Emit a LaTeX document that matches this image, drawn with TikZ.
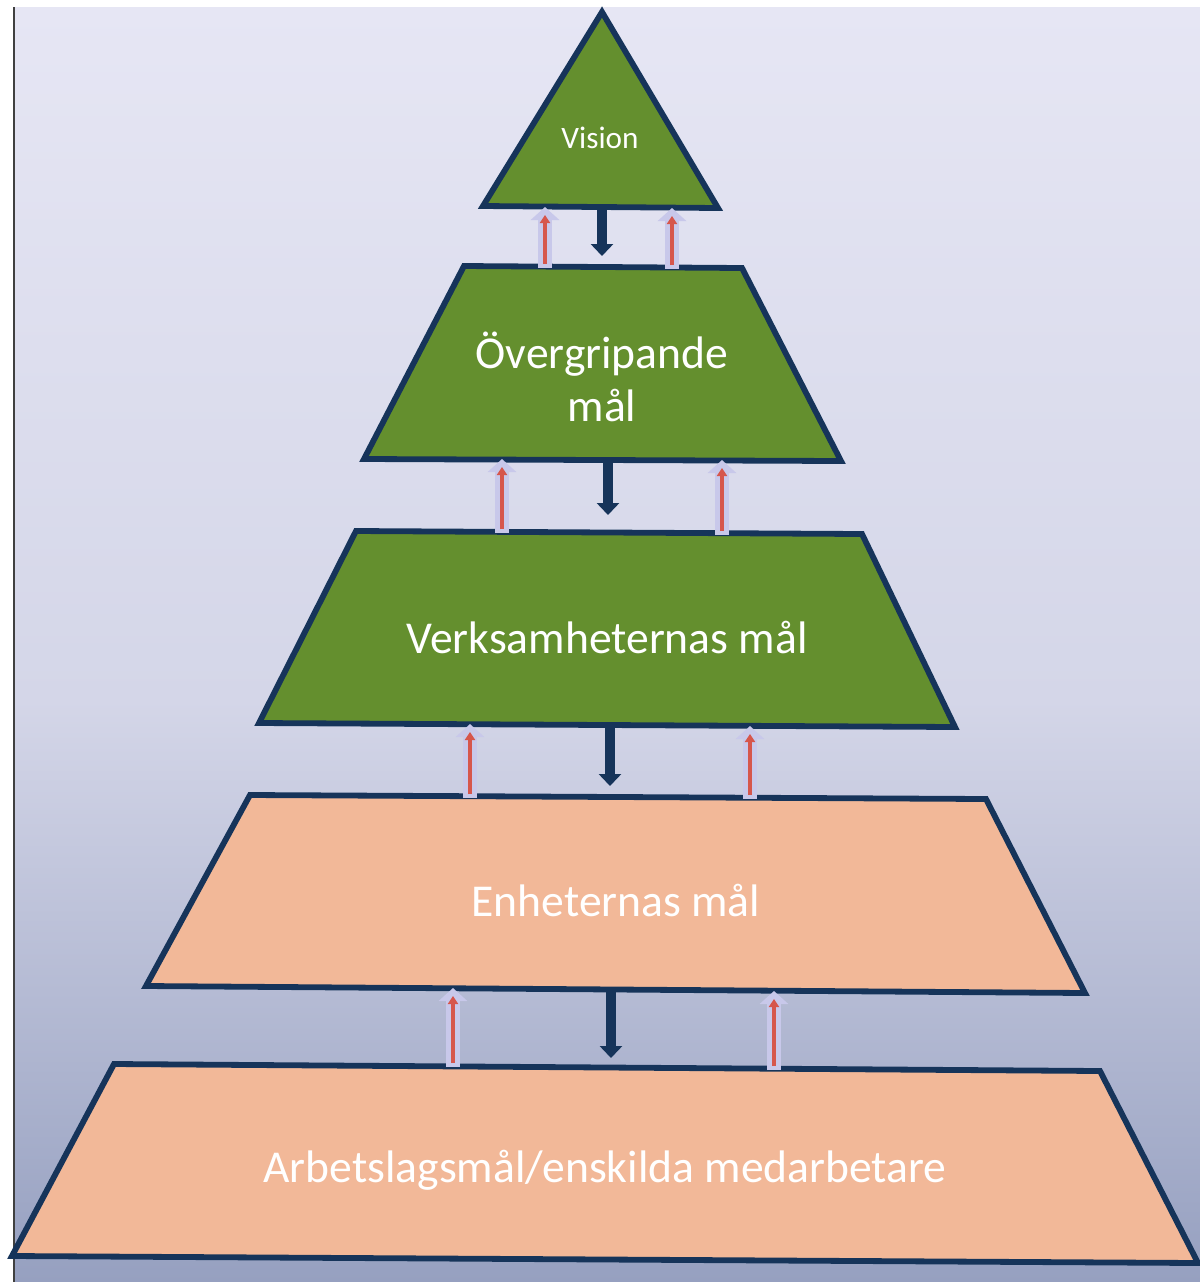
\documentclass[tikz,border=0pt]{standalone}
\usepackage{fontspec}
\setmainfont{Carlito}
\usetikzlibrary{arrows.meta}
\definecolor{bgtop}{RGB}{230,230,244}
\definecolor{bgmid}{RGB}{212,214,232}
\definecolor{bgbot}{RGB}{150,160,192}
\definecolor{leafgreen}{RGB}{100,143,46}
\definecolor{peach}{RGB}{242,184,152}
\definecolor{navy}{RGB}{22,52,90}
\definecolor{lav}{RGB}{200,200,234}
\definecolor{redline}{RGB}{214,86,76}
\tikzset{
  layer/.style={draw=navy, line width=2.9pt, line join=miter},
  greenlayer/.style={layer, fill=leafgreen},
  peachlayer/.style={layer, fill=peach},
  lavarrow/.style={draw=lav, line width=7pt, -{Triangle[width=14pt,length=6.5pt]}},
  redarrow/.style={draw=redline, line width=2.2pt, -{Triangle[width=5pt,length=4pt]}},
  downarrow/.style={draw=navy, line width=5pt, -{Triangle[width=11pt,length=6pt]}},
  lbl/.style={text=white, align=center, font=\fontsize{22.8}{26.5}\selectfont},
  smalllbl/.style={text=white, align=center, font=\fontsize{15.6}{18}\selectfont}
}
\begin{document}
\begin{tikzpicture}[x=0.5pt,y=-0.5pt]
\useasboundingbox (0,0) rectangle (1200,1282);
\fill[white] (0,0) rectangle (1200,1282);
\shade[top color=bgtop, bottom color=bgmid] (14,7) rectangle (1200,700);
\shade[top color=bgmid, bottom color=bgbot] (14,700) rectangle (1200,1282);
\draw[black!75, line width=1pt] (14,7) -- (14,1282);

% layers
\draw[greenlayer] (602,12) -- (718,208) -- (483,206) -- cycle;
\draw[greenlayer] (464,266) -- (742,268) -- (841,461) -- (364,459) -- cycle;
\draw[greenlayer] (356,531) -- (862,534) -- (955,727) -- (259,723) -- cycle;
\draw[peachlayer] (250,795) -- (986,799) -- (1085,993) -- (146,986) -- cycle;
\draw[peachlayer] (114,1064) -- (1100,1071) -- (1198,1263) -- (12,1256) -- cycle;

% labels
\node[smalllbl] (vision) at (600,138) {Vision};
\node[lbl] (overg) at (602,377) {Övergripande\\mål};
\node[lbl] (verks) at (607,637) {Verksamheternas mål};
\node[lbl] (enh) at (616,900) {Enheternas mål};
\node[lbl] (arb) at (605,1170) {Arbetslagsmål/enskilda medarbetare};

% arrow end points
\coordinate (a1) at (545,268); \coordinate (a1e) at (545,207);
\coordinate (a2) at (672,269); \coordinate (a2e) at (672,208);
\coordinate (d1) at (602,208); \coordinate (d1e) at (602,256);
\coordinate (b1) at (502,533); \coordinate (b1e) at (502,459);
\coordinate (b2) at (722,535); \coordinate (b2e) at (722,460);
\coordinate (d2) at (608,461); \coordinate (d2e) at (608,515);
\coordinate (c1) at (470,798); \coordinate (c1e) at (470,724);
\coordinate (c2) at (750,799); \coordinate (c2e) at (750,726);
\coordinate (d3) at (610,726); \coordinate (d3e) at (610,786);
\coordinate (e1) at (453,1067); \coordinate (e1e) at (453,988);
\coordinate (e2) at (774,1070); \coordinate (e2e) at (774,991);
\coordinate (d4) at (611,991); \coordinate (d4e) at (611,1058);

\foreach \s/\e in {a1/a1e,a2/a2e,b1/b1e,b2/b2e,c1/c1e,c2/c2e,e1/e1e,e2/e2e}{
  \draw[lavarrow] (\s) -- (\e);
  \draw[redarrow] ([yshift=2pt]\s) -- ([yshift=-4pt]\e);
}
\foreach \s/\e in {d1/d1e,d2/d2e,d3/d3e,d4/d4e}{
  \draw[downarrow] (\s) -- (\e);
}
\end{tikzpicture}
\end{document}
